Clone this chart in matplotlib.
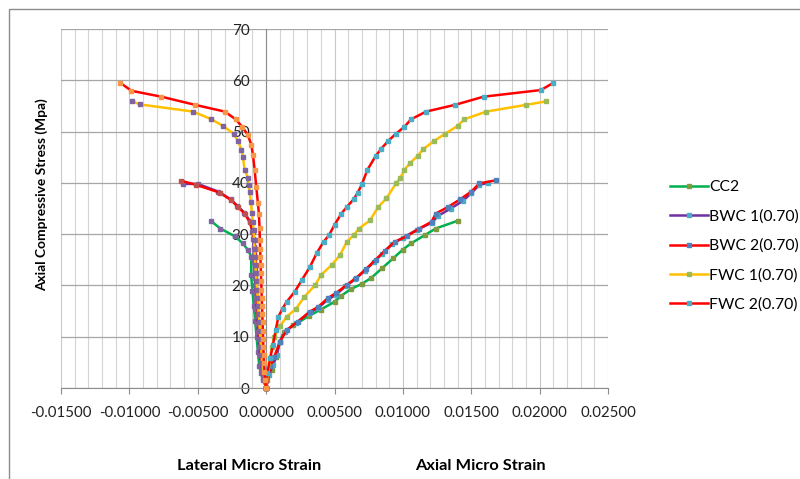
#!/usr/bin/env python3
"""Stress-strain curves, axial and lateral micro strain, for the CC2 / BWC / FWC columns."""

import matplotlib

matplotlib.use("Agg")
import matplotlib.pyplot as plt
from matplotlib.patches import Rectangle
from matplotlib.ticker import FixedLocator, FuncFormatter, MultipleLocator

plt.rcParams["font.family"] = ["Lato", "DejaVu Sans"]

# axial strain / stress (MPa)
cc2_ax_strain = [0, 0.0001, 0.0004, 0.0007, 0.0010, 0.0013, 0.0020, 0.0031, 0.0040, 0.0050,
                 0.0055, 0.0062, 0.0070, 0.0077, 0.0085, 0.0093, 0.0100, 0.0106, 0.0116,
                 0.0124, 0.0140]
cc2_ax_stress = [0, 1.5, 3.5, 6.0, 9.0, 11.0, 12.2, 14.0, 15.3, 16.8,
                 18.0, 19.3, 20.3, 21.5, 23.4, 25.3, 27.0, 28.2, 29.8,
                 31.1, 32.6]

bwc1_ax_strain = [0, 0.0002, 0.0005, 0.0008, 0.0010, 0.0014, 0.0022, 0.0031, 0.0038, 0.0045,
                  0.0051, 0.0058, 0.0065, 0.0072, 0.0079, 0.0085, 0.0092, 0.0100, 0.0110,
                  0.0121, 0.0126, 0.0135, 0.0144, 0.0150, 0.0156, 0.0162]
bwc1_ax_stress = [0, 2.5, 4.5, 6.5, 9.0, 11.0, 12.7, 14.6, 15.6, 17.2,
                  18.2, 19.8, 21.2, 22.8, 24.6, 26.2, 28.0, 29.3, 30.8,
                  32.2, 33.6, 35.0, 36.5, 38.0, 39.6, 40.0]

bwc2_ax_strain = [0, 0.0003, 0.0006, 0.0010, 0.0015, 0.0023, 0.0032, 0.0038, 0.0045, 0.0051,
                  0.0059, 0.0066, 0.0073, 0.0080, 0.0087, 0.0094, 0.0103, 0.0112, 0.0121,
                  0.0124, 0.0133, 0.0142, 0.0150, 0.0156, 0.0168]
bwc2_ax_stress = [0, 4.2, 6.1, 9.0, 11.3, 12.9, 14.9, 15.8, 17.5, 18.5,
                  20.1, 21.5, 23.2, 25.0, 26.8, 28.5, 29.6, 31.1, 32.4,
                  34.0, 35.3, 36.8, 38.3, 39.9, 40.5]

fwc1_ax_strain = [0, 0.0003, 0.0004, 0.0006, 0.0010, 0.0015, 0.0022, 0.0028, 0.0036, 0.0040,
                  0.0048, 0.0054, 0.0059, 0.0064, 0.0068, 0.0076, 0.0082, 0.0088, 0.0095,
                  0.0098, 0.0101, 0.0105, 0.0111, 0.0115, 0.0123, 0.0131, 0.0140, 0.0145,
                  0.0161, 0.0190, 0.0205]
fwc1_ax_stress = [0, 5.8, 8.0, 10.0, 12.0, 13.9, 15.5, 17.8, 20.1, 22.0,
                  24.0, 25.9, 28.5, 29.8, 31.1, 32.7, 35.3, 37.0, 39.9,
                  40.9, 42.5, 43.8, 45.3, 46.6, 48.2, 49.6, 51.1, 52.4,
                  53.9, 55.2, 55.9]

fwc2_ax_strain = [0, 0.0001, 0.0003, 0.0005, 0.0007, 0.0009, 0.0012, 0.0015, 0.0021, 0.0026,
                  0.0032, 0.0037, 0.0042, 0.0046, 0.0050, 0.0055, 0.0059, 0.0064, 0.0067,
                  0.0070, 0.0074, 0.0080, 0.0084, 0.0089, 0.0095, 0.0101, 0.0106, 0.0117,
                  0.0138, 0.0159, 0.0201, 0.0210]
fwc2_ax_stress = [0, 3.0, 5.8, 8.4, 11.3, 13.9, 15.5, 16.8, 18.8, 21.0,
                  23.6, 26.3, 28.5, 29.8, 31.8, 34.0, 35.3, 36.8, 38.1,
                  39.7, 42.5, 45.2, 46.6, 48.1, 49.6, 50.9, 52.4, 53.9,
                  55.2, 56.8, 58.1, 59.5]

# lateral strain / stress (MPa)
cc2_lat_strain = [0, -0.0002, -0.0004, -0.0005, -0.0006, -0.0007, -0.0008, -0.0009, -0.0010,
                  -0.0011, -0.00108, -0.00133, -0.0017, -0.0023, -0.00335, -0.0040]
cc2_lat_stress = [0, 1.5, 3.0, 4.2, 7.0, 10.0, 13.0, 16.0, 19.0,
                  22.0, 25.6, 26.9, 28.2, 29.6, 31.1, 32.5]

bwc1_lat_strain = [0, -0.0002, -0.0003, -0.0004, -0.00045, -0.0005, -0.00055, -0.0006, -0.00065,
                   -0.0007, -0.00072, -0.00075, -0.00078, -0.0008, -0.00082, -0.00085, -0.00088,
                   -0.0009, -0.00092, -0.00095, -0.0010, -0.0012, -0.0016, -0.0021, -0.0026,
                   -0.0035, -0.0050, -0.0061]
bwc1_lat_stress = [0, 2.0, 3.5, 5.0, 6.5, 8.0, 9.5, 11.0, 12.5,
                   14.0, 15.5, 17.0, 18.5, 20.0, 21.5, 23.0, 24.5,
                   26.0, 27.5, 29.0, 30.5, 32.6, 34.2, 35.5, 36.8,
                   38.3, 39.8, 39.8]

bwc2_lat_strain = [0, -0.0001, -0.0002, -0.0003, -0.00035, -0.0004, -0.00045, -0.0005, -0.00055,
                   -0.0006, -0.00062, -0.00065, -0.00068, -0.0007, -0.00072, -0.00075, -0.00078,
                   -0.0008, -0.00085, -0.00097, -0.00121, -0.00157, -0.00206, -0.00254,
                   -0.0034, -0.0051, -0.0062]
bwc2_lat_stress = [0, 1.6, 3.2, 4.8, 6.4, 8.0, 9.6, 11.2, 12.8,
                   14.4, 16.0, 17.6, 19.2, 20.8, 22.4, 24.0, 25.6,
                   27.2, 28.8, 30.5, 32.4, 34.0, 35.3, 36.6,
                   38.1, 39.6, 40.4]

fwc1_lat_strain = [0, -0.0001, -0.0002, -0.00028, -0.00033, -0.00038, -0.00042, -0.00046, -0.0005,
                   -0.00054, -0.00058, -0.00062, -0.00066, -0.0007, -0.00074, -0.00078, -0.00082,
                   -0.00085, -0.00088, -0.00091, -0.00097, -0.00104, -0.00112, -0.00121, -0.00127,
                   -0.00133, -0.00157, -0.0017, -0.00181, -0.00206, -0.00238, -0.00316, -0.0040,
                   -0.00535, -0.00925, -0.00978]
fwc1_lat_stress = [0, 1.6, 3.2, 4.8, 6.4, 8.0, 9.6, 11.2, 12.8,
                   14.4, 16.0, 17.6, 19.2, 20.8, 22.4, 24.0, 25.6,
                   27.2, 28.8, 30.8, 32.4, 34.1, 36.2, 38.3, 39.6,
                   41.0, 42.5, 45.1, 46.5, 48.2, 49.6, 51.1, 52.4,
                   53.9, 55.3, 55.9]

fwc2_lat_strain = [0, -0.0001, -0.00012, -0.00015, -0.00018, -0.0002, -0.00022, -0.00024, -0.00026,
                   -0.00028, -0.0003, -0.00032, -0.00034, -0.00036, -0.00038, -0.0004, -0.00042,
                   -0.00044, -0.00046, -0.00048, -0.00053, -0.0006, -0.00072, -0.00084, -0.00096,
                   -0.00108, -0.00133, -0.00174, -0.00223, -0.00303, -0.00518, -0.00766,
                   -0.00985, -0.01066]
fwc2_lat_stress = [0, 1.6, 3.2, 4.8, 6.4, 8.0, 9.6, 11.2, 12.8,
                   14.4, 16.0, 17.6, 19.2, 20.8, 22.4, 24.0, 25.6,
                   27.2, 28.8, 31.2, 34.0, 36.0, 39.2, 42.5, 45.4,
                   47.4, 49.3, 50.9, 52.4, 53.9, 55.2, 56.8,
                   57.95, 59.5]

x_ticks = [-0.015, -0.010, -0.005, 0.0, 0.005, 0.010, 0.015, 0.020, 0.025]


def main() -> None:
    fig = plt.figure(figsize=(8.0, 4.79), dpi=100)
    ax = fig.add_axes([61 / 800, 1 - 388 / 479, 547 / 800, 359 / 479])

    # (strain, stress, line colour, marker colour, label)
    series = [
        (cc2_ax_strain, cc2_ax_stress, "#00B050", "#7F9A3F", "CC2"),
        (bwc1_ax_strain, bwc1_ax_stress, "#7030A0", "#4BACC6", "BWC 1(0.70)"),
        (bwc2_ax_strain, bwc2_ax_stress, "#FF0000", "#4F81BD", "BWC 2(0.70)"),
        (fwc1_ax_strain, fwc1_ax_stress, "#FFC000", "#9BBB59", "FWC 1(0.70)"),
        (fwc2_ax_strain, fwc2_ax_stress, "#FF0000", "#4BACC6", "FWC 2(0.70)"),
        (cc2_lat_strain, cc2_lat_stress, "#00B050", "#8064A2", "_nolegend_"),
        (bwc1_lat_strain, bwc1_lat_stress, "#7030A0", "#8064A2", "_nolegend_"),
        (bwc2_lat_strain, bwc2_lat_stress, "#FF0000", "#C0504D", "_nolegend_"),
        (fwc1_lat_strain, fwc1_lat_stress, "#FFC000", "#8064A2", "_nolegend_"),
        (fwc2_lat_strain, fwc2_lat_stress, "#FF0000", "#F79646", "_nolegend_"),
    ]
    for strain, stress, line_c, mark_c, label in series:
        ax.plot(strain, stress, color=line_c, linewidth=1.8, marker="s",
                markersize=3.4, markerfacecolor=mark_c, markeredgecolor=mark_c,
                label=label, clip_on=False, zorder=3)

    ax.set_xlim(-0.015, 0.025)
    ax.set_ylim(0, 70)

    ax.xaxis.set_major_locator(FixedLocator(x_ticks))
    ax.xaxis.set_minor_locator(MultipleLocator(0.001))
    ax.xaxis.set_major_formatter(FuncFormatter(lambda v, _: f"{v:.5f}".replace("-0.00000", "0.00000")))
    ax.yaxis.set_major_locator(MultipleLocator(10))

    ax.grid(which="minor", axis="x", color="#D4D4D4", linewidth=0.8)
    ax.grid(which="major", axis="x", color="#C8C8C8", linewidth=0.8)
    ax.grid(which="major", axis="y", color="#A6A6A6", linewidth=0.9)
    ax.set_axisbelow(True)

    for side in ("top", "right"):
        ax.spines[side].set_visible(False)
    ax.spines["left"].set_position(("data", 0))
    ax.spines["left"].set_color("#8C8C8C")
    ax.spines["bottom"].set_color("#8C8C8C")
    ax.spines["left"].set_zorder(2)

    ax.tick_params(axis="x", which="major", direction="out", length=4, width=0.8,
                   color="#8C8C8C", pad=9, labelsize=10.8, labelcolor="#222222")
    ax.tick_params(axis="x", which="minor", length=0)
    ax.tick_params(axis="y", length=0, pad=12, labelsize=11, labelcolor="#222222")

    fig.text(42 / 800, 1 - 195 / 479, "Axial Compressive Stress (Mpa)", rotation=90,
             ha="center", va="center", fontsize=9.9, fontweight="bold")
    fig.text(249 / 800, 1 - 466 / 479, "Lateral Micro Strain", ha="center", va="center",
             fontsize=11.8, fontweight="bold")
    fig.text(480 / 800, 1 - 466 / 479, "Axial Micro Strain", ha="center", va="center",
             fontsize=11.8, fontweight="bold")

    fig.legend(loc="center left", bbox_to_anchor=(662 / 800, 1 - 246 / 479), frameon=False,
               fontsize=11.3, handlelength=2.4, handletextpad=0.1, labelspacing=0.95,
               borderpad=0, numpoints=1)

    fig.patches.append(Rectangle((9 / 800, -0.1), 1.2, 1.1 - 9 / 479, transform=fig.transFigure,
                                 fill=False, edgecolor="#8C8C8C", linewidth=1.0))

    fig.savefig("out.png", dpi=100)
    plt.close(fig)


if __name__ == "__main__":
    main()
